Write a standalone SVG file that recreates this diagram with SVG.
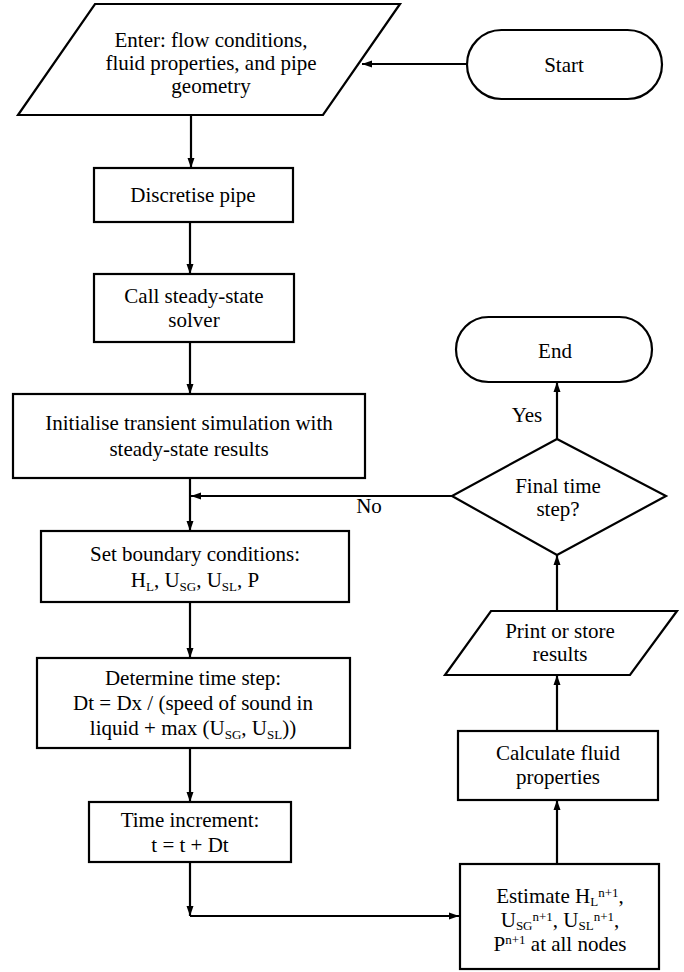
<svg xmlns="http://www.w3.org/2000/svg" width="684" height="972" viewBox="0 0 684 972">
<defs>
<style>
.s{fill:#fff;stroke:#000;stroke-width:2.2}
.c{fill:none;stroke:#000;stroke-width:2.2}
.t text{font-size:21px;fill:#000;text-anchor:middle}
.sub{font-size:13px}
</style>
<marker id="ah" markerUnits="userSpaceOnUse" markerWidth="10" markerHeight="10" viewBox="0 0 10 10" refX="10" refY="5" orient="auto">
<path d="M0,1.5 L10,5 L0,8.5 Z" fill="#000"/>
</marker>
</defs>
<rect width="684" height="972" fill="#fff"/>
<g class="t" font-family="'Liberation Serif', 'Times New Roman', serif">
<g id="connectors">
<path class="c" d="M467,64 H362" marker-end="url(#ah)"/>
<path class="c" d="M191,115 V168" marker-end="url(#ah)"/>
<path class="c" d="M190,222 V274" marker-end="url(#ah)"/>
<path class="c" d="M190,342 V394" marker-end="url(#ah)"/>
<path class="c" d="M190,478 V531" marker-end="url(#ah)"/>
<path class="c" d="M452,496 H191" marker-end="url(#ah)"/>
<path class="c" d="M190,602 V658" marker-end="url(#ah)"/>
<path class="c" d="M190,748 V802" marker-end="url(#ah)"/>
<path class="c" d="M190,862 V916" marker-end="url(#ah)"/>
<path class="c" d="M190,916 H459" marker-end="url(#ah)"/>
<path class="c" d="M557,864 V800" marker-end="url(#ah)"/>
<path class="c" d="M557,731 V675" marker-end="url(#ah)"/>
<path class="c" d="M557,611 V555" marker-end="url(#ah)"/>
<path class="c" d="M557,439 V382" marker-end="url(#ah)"/>
<text x="527" y="422">Yes</text>
<text x="369" y="513">No</text>
</g>
<g id="input">
<polygon class="s" points="95,4 400,4 323,115 18,115"/>
<text x="211" y="47">Enter: flow conditions,</text>
<text x="211" y="70">fluid properties, and pipe</text>
<text x="211" y="93">geometry</text>
</g>
<g id="start">
<rect class="s" x="467" y="30" width="195" height="69" rx="34.5"/>
<text x="564" y="72">Start</text>
</g>
<g id="discretise">
<rect class="s" x="94" y="168" width="199" height="54"/>
<text x="193" y="202">Discretise pipe</text>
</g>
<g id="steady">
<rect class="s" x="94" y="274" width="200" height="68"/>
<text x="194" y="303">Call steady-state</text>
<text x="194" y="327">solver</text>
</g>
<g id="initialise">
<rect class="s" x="13" y="394" width="352" height="84"/>
<text x="189" y="430">Initialise transient simulation with</text>
<text x="189" y="456">steady-state results</text>
</g>
<g id="boundary">
<rect class="s" x="41" y="531" width="308" height="71"/>
<text x="195" y="561">Set boundary conditions:</text>
<text x="195" y="587">H<tspan class="sub" dy="4">L</tspan><tspan dy="-4">, U</tspan><tspan class="sub" dy="4">SG</tspan><tspan dy="-4">, U</tspan><tspan class="sub" dy="4">SL</tspan><tspan dy="-4">, P</tspan></text>
</g>
<g id="timestep">
<rect class="s" x="37" y="658" width="313" height="90"/>
<text x="193" y="685">Determine time step:</text>
<text x="193" y="710">Dt = Dx / (speed of sound in</text>
<text x="193" y="735">liquid + max (U<tspan class="sub" dy="4">SG</tspan><tspan dy="-4">, U</tspan><tspan class="sub" dy="4">SL</tspan><tspan dy="-4">))</tspan></text>
</g>
<g id="increment">
<rect class="s" x="89" y="802" width="202" height="60"/>
<text x="190" y="827">Time increment:</text>
<text x="190" y="852">t = t + Dt</text>
</g>
<g id="estimate">
<rect class="s" x="460" y="864" width="199" height="105"/>
<text x="560" y="903">Estimate H<tspan class="sub" dy="3">L</tspan><tspan class="sub" dy="-9">n+1</tspan><tspan dy="6">,</tspan></text>
<text x="560" y="927">U<tspan class="sub" dy="3">SG</tspan><tspan class="sub" dy="-9">n+1</tspan><tspan dy="6">, U</tspan><tspan class="sub" dy="3">SL</tspan><tspan class="sub" dy="-9">n+1</tspan><tspan dy="6">,</tspan></text>
<text x="560" y="951">P<tspan class="sub" dy="-7">n+1</tspan><tspan dy="7"> at all nodes</tspan></text>
</g>
<g id="fluid">
<rect class="s" x="458" y="731" width="200" height="69"/>
<text x="558" y="760">Calculate fluid</text>
<text x="558" y="784">properties</text>
</g>
<g id="print">
<polygon class="s" points="491,611 677,611 630,675 445,675"/>
<text x="560" y="638">Print or store</text>
<text x="560" y="661">results</text>
</g>
<g id="decision">
<polygon class="s" points="557,439 666,496 557,555 452,496"/>
<text x="558" y="493">Final time</text>
<text x="558" y="516">step?</text>
</g>
<g id="end">
<rect class="s" x="456" y="317" width="196" height="65" rx="32.5"/>
<text x="555" y="358">End</text>
</g>
</g>
</svg>
